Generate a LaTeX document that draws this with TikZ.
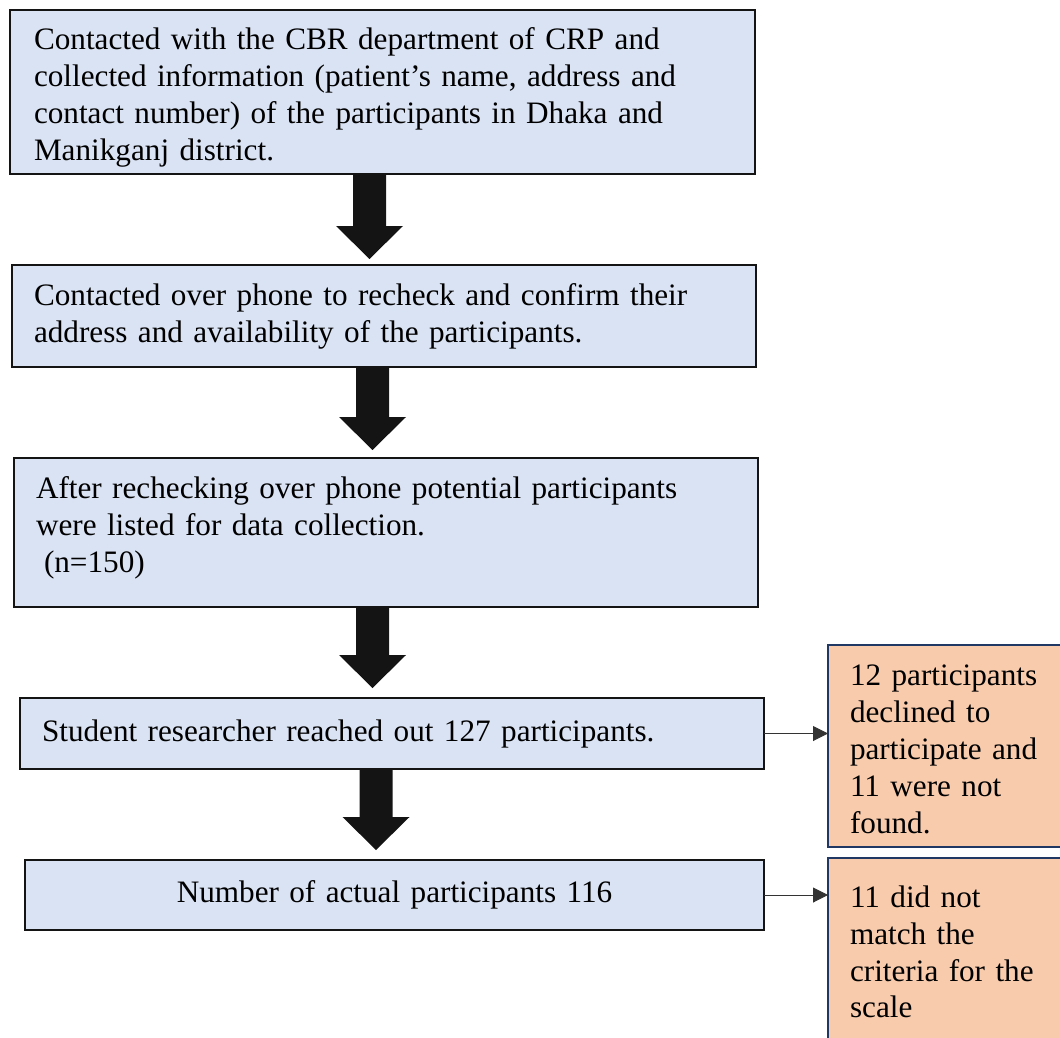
\documentclass[tikz,border=0pt]{standalone}
\usepackage{fontspec}
\setmainfont{Liberation Serif}
\usetikzlibrary{arrows.meta,calc}
\definecolor{boxblue}{HTML}{DAE3F3}
\definecolor{boxorange}{HTML}{F8CBAD}
\definecolor{navyedge}{HTML}{203864}
\definecolor{edgeblack}{HTML}{141414}
% block arrow: #1 start point (top centre), #2 shaft length
\newcommand\blockarrow[2]{\fill[edgeblack] #1 ++(-16.5,0) -- ++(33,0) -- ++(0,#2) -- ++(17,0) -- ++(-33.5,33) -- ++(-33.5,-33) -- ++(17,0) -- cycle;}
\begin{document}
\begin{tikzpicture}[x=1pt,y=-1pt,
  mainbox/.style={draw=edgeblack, line width=2.5pt, fill=boxblue, outer sep=0pt,
    font=\fontsize{31.2}{37}\selectfont, inner ysep=0pt, anchor=north west},
  sidebox/.style={draw=navyedge, line width=2pt, fill=boxorange, outer sep=0pt,
    font=\fontsize{31.2}{36.8}\selectfont, inner ysep=0pt, inner xsep=22pt,
    text width=216pt, align=left, minimum width=260pt, anchor=north west},
  thinarrow/.style={draw=black!80, line width=1pt, -{Triangle[length=15pt,width=15pt]}}]
\useasboundingbox (0,0) rectangle (1060,1038);
\clip (0,0) rectangle (1060,1038);

\node[mainbox, minimum width=745pt, minimum height=164pt, inner xsep=24pt,
  text width=697pt, align=left, text height=33pt, text depth=118pt] (b1) at (10,10)
  {Contacted with the CBR department of CRP and\\
   collected information (patient’s name, address and\\
   contact number) of the participants in Dhaka and\\
   Manikganj district.};

\node[mainbox, minimum width=744pt, minimum height=102pt, inner xsep=22pt,
  text width=700pt, align=left] (b2) at (12,265)
  {Contacted over phone to recheck and confirm their\\
   address and availability of the participants.};

\node[mainbox, minimum width=744pt, minimum height=149pt, inner xsep=22pt,
  text width=700pt, align=left, text height=21.5pt, text depth=90pt] (b3) at (14,458)
  {After rechecking over phone potential participants\\
   were listed for data collection.\\
   \hspace*{8pt}(n=150)};

\node[mainbox, minimum width=744pt, minimum height=71pt, inner xsep=22pt,
  text width=700pt, align=left] (b4) at (20,698)
  {Student researcher reached out 127 participants.};

\node[mainbox, minimum width=739pt, minimum height=70pt, inner xsep=22pt,
  text width=695pt, align=center] (b5) at (25,860)
  {Number of actual participants 116};

\node[sidebox, minimum height=202pt, text height=27pt, text depth=147.2pt] (s1) at (828,645)
  {12 participants\\ declined to\\ participate and\\ 11 were not\\ found.};

\node[sidebox, minimum height=188pt] (s2) at (828,858)
  {11 did not\\ match the\\ criteria for the\\ scale};

% block arrows between the main boxes
\blockarrow{([xshift=-13pt]b1.south)}{52}
\blockarrow{([xshift=-11.5pt]b2.south)}{50}
\blockarrow{([xshift=-13.5pt]b3.south)}{48}
\blockarrow{([xshift=-16pt]b4.south)}{48}

% side connectors
\draw[thinarrow] (b4.east) -- (b4.east -| s1.west);
\draw[thinarrow] (b5.east) -- (b5.east -| s2.west);
\end{tikzpicture}
\end{document}
